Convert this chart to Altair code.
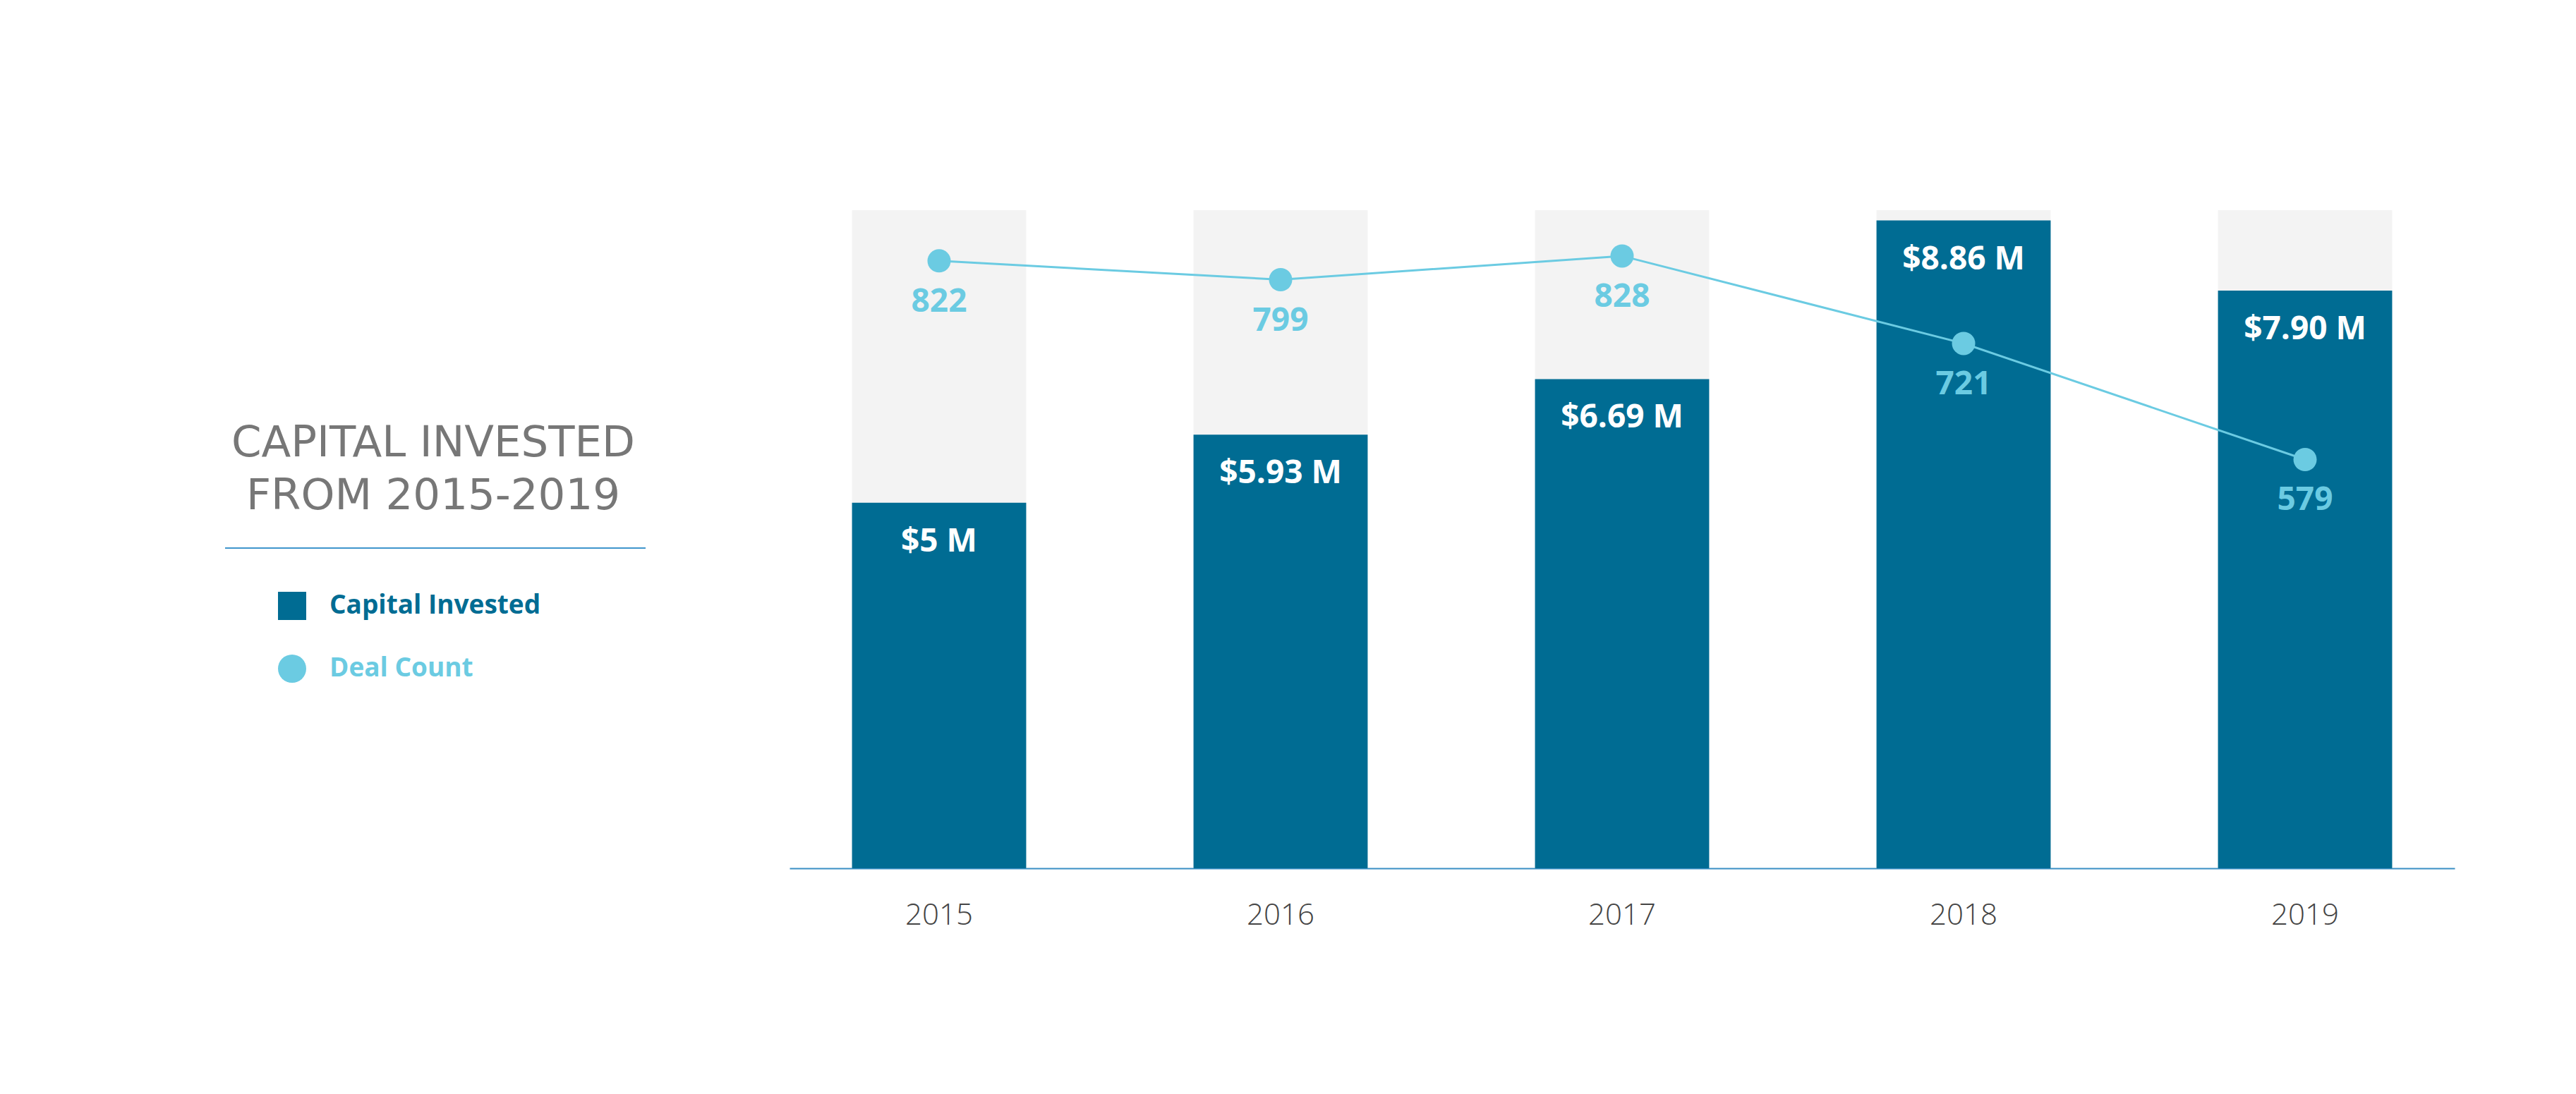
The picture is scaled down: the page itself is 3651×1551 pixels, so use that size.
import altair as alt
import pandas as pd

# ---- data ----
years = ["2015", "2016", "2017", "2018", "2019"]
capital = [5.00, 5.93, 6.69, 8.86, 7.90]
capital_labels = ["$5 M", "$5.93 M", "$6.69 M", "$8.86 M", "$7.90 M"]
deals = [822, 799, 828, 721, 579]
title_lines = ["CAPITAL INVESTED", "FROM 2015-2019"]
series_capital = "Capital Invested"
series_deals = "Deal Count"

Y_MAX = 9
DEAL_DOMAIN = [79, 884]

df = pd.DataFrame({"year": years, "capital": capital,
                   "cap_label": capital_labels, "deals": deals})

DARK = "#006c93"
LIGHT = "#6bcbe2"
GRAY = "#f3f3f3"
FONT = "Open Sans"

base = alt.Chart(df)

x = alt.X("year:N", sort=years,
          scale=alt.Scale(paddingInner=0.49, paddingOuter=0.183),
          axis=alt.Axis(title=None, labelAngle=0, ticks=False, grid=False,
                        domainColor="#3a8fc4", domainWidth=2,
                        labelFontSize=42, labelFont=FONT, labelFontWeight=300,
                        labelColor="#444444", labelPadding=46))

yc = alt.Scale(domain=[0, Y_MAX])

bg = base.mark_bar(color=GRAY).encode(
    x=x, y=alt.YDatum(Y_MAX, scale=yc, axis=None))

bars = base.mark_bar().encode(
    x=x,
    y=alt.Y("capital:Q", scale=yc, axis=None, stack=None),
    color=alt.Color("series:N",
                    scale=alt.Scale(domain=[series_capital], range=[DARK]),
                    legend=alt.Legend(title=None, orient="none", legendX=-725, legendY=541,
                                      symbolType="square", symbolSize=1600,
                                      symbolStrokeWidth=0, padding=0,
                                      labelFontSize=37, labelFont=FONT,
                                      labelFontWeight="bold", labelColor=DARK,
                                      labelOffset=33, labelLimit=0)),
).transform_calculate(series=f"'{series_capital}'")

bar_lbl = base.mark_text(dy=55, baseline="middle", fontSize=46, fontWeight="bold",
                         color="white", font=FONT).encode(
    x=x, y=alt.Y("capital:Q", scale=yc, axis=None), text="cap_label:N")

sep = alt.Chart(pd.DataFrame({"k": [0]})).mark_rule(color="#3f95cc", strokeWidth=2).encode(
    x=alt.value(-800), x2=alt.value(-204), y=alt.value(479))

left = alt.layer(bg, bars, bar_lbl, sep)

yd = alt.Scale(domain=DEAL_DOMAIN)

line = base.mark_line(color=LIGHT, strokeWidth=3).encode(
    x=x, y=alt.Y("deals:Q", scale=yd, axis=None))

pts = base.mark_circle(size=1089, opacity=1).encode(
    x=x, y=alt.Y("deals:Q", scale=yd, axis=None),
    color=alt.Color("series:N",
                    scale=alt.Scale(domain=[series_deals], range=[LIGHT]),
                    legend=alt.Legend(title=None, orient="none", legendX=-725, legendY=630,
                                      symbolType="circle", symbolSize=1600,
                                      symbolStrokeWidth=0, symbolOpacity=1, padding=0,
                                      labelFontSize=37, labelFont=FONT,
                                      labelFontWeight="bold", labelColor=LIGHT,
                                      labelOffset=33, labelLimit=0)),
).transform_calculate(series=f"'{series_deals}'")

deal_lbl = base.mark_text(dy=58, baseline="middle", fontSize=46, fontWeight="bold",
                          color=LIGHT, font=FONT).encode(
    x=x, y=alt.Y("deals:Q", scale=yd, axis=None), text="deals:Q")

right = alt.layer(line, pts, deal_lbl)

chart = alt.layer(left, right).resolve_scale(
    y="independent", color="independent"
).properties(
    width=2360, height=933,
    autosize=alt.AutoSizeParams(type="none"),
    padding={"left": 1111, "top": 290, "right": 150, "bottom": 300},
    background="white",
    title=alt.TitleParams(text=title_lines, anchor="start", frame="group",
                          align="center", baseline="alphabetic", dx=-505, dy=485,
                          offset=0, fontSize=61, font="DejaVu Sans",
                          fontWeight="normal", color="#777777", lineHeight=75),
).configure_view(stroke=None)

chart.save("out.html", embed_options={"renderer": "svg", "actions": False})
